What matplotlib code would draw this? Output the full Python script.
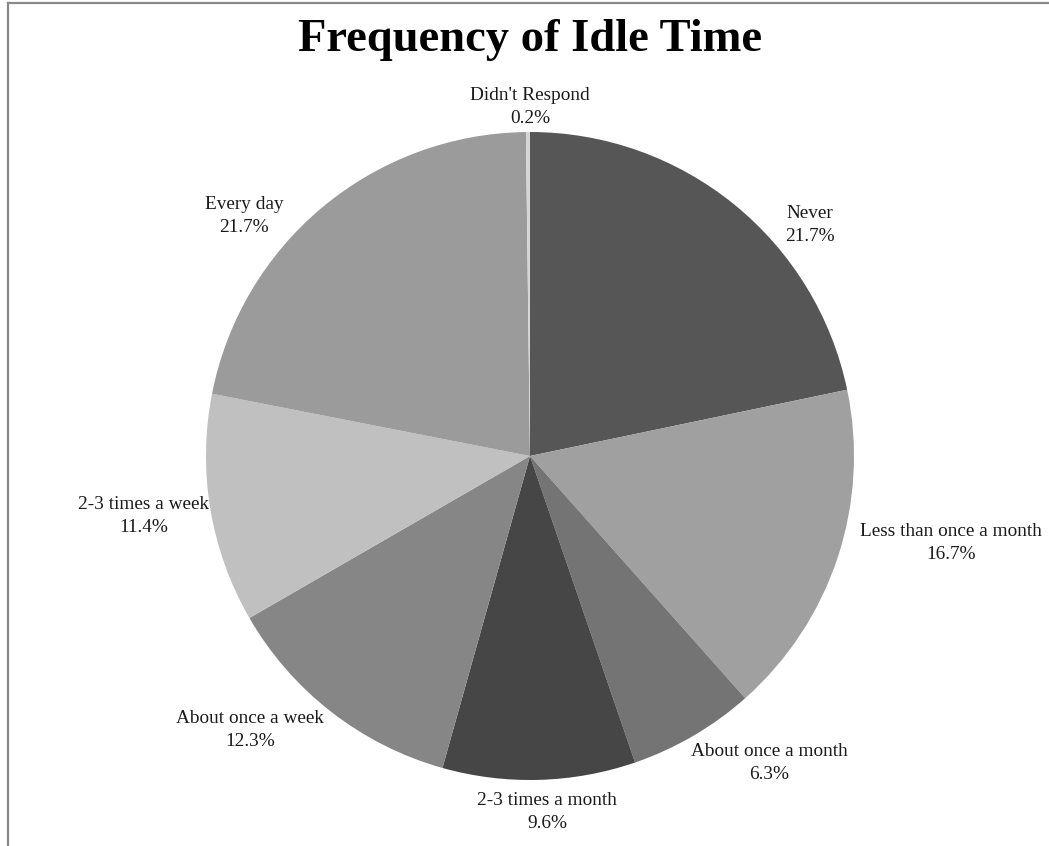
import numpy as np
import matplotlib.pyplot as plt
from matplotlib.lines import Line2D

# Data
labels = ["Never", "Less than once a month", "About once a month", "2-3 times a month",
          "About once a week", "2-3 times a week", "Every day", "Didn't Respond"]
values = [21.7, 16.7, 6.3, 9.6, 12.3, 11.4, 21.7, 0.2]
colors = ["#565656", "#a0a0a0", "#747474", "#464646",
          "#868686", "#c0c0c0", "#9b9b9b", "#d6d6d6"]

# label centres in pixels (x from left, y from top)
label_pos = [(810, 225), (951, 543), (769, 763), (547, 812),
             (250, 730), (144, 516), (244, 216), (530, 107)]

W, H = 1049, 846
fig = plt.figure(figsize=(W / 100, H / 100), dpi=100)
ax = fig.add_axes([0, 0, 1, 1])

cx, cy, R = 530, H - 456, 324
ax.pie(values, colors=colors, startangle=90, counterclock=False,
       center=(cx, cy), radius=R, frame=True,
       wedgeprops=dict(linewidth=0))
ax.set_xlim(0, W)
ax.set_ylim(0, H)
ax.axis("off")

for lab, v, (x, y) in zip(labels, values, label_pos):
    ax.text(x, H - y, f"{lab}\n{v:.1f}%", ha="center", va="center",
            family="Liberation Serif", fontsize=13.9, color="#1a1a1a",
            linespacing=1.4, multialignment="center")

fig.text(530 / W, 1 - 40 / H, "Frequency of Idle Time", ha="center", va="center",
         family="Liberation Serif", fontweight="bold", fontsize=33.5, color="#000000")

# frame lines (top and left)
fig.add_artist(Line2D([8 / W, 1], [1 - 3 / H, 1 - 3 / H], transform=fig.transFigure,
                      color="#898989", linewidth=1.6))
fig.add_artist(Line2D([8 / W, 8 / W], [0, 1 - 3 / H], transform=fig.transFigure,
                      color="#898989", linewidth=1.6))

fig.savefig("out.png", dpi=100)
